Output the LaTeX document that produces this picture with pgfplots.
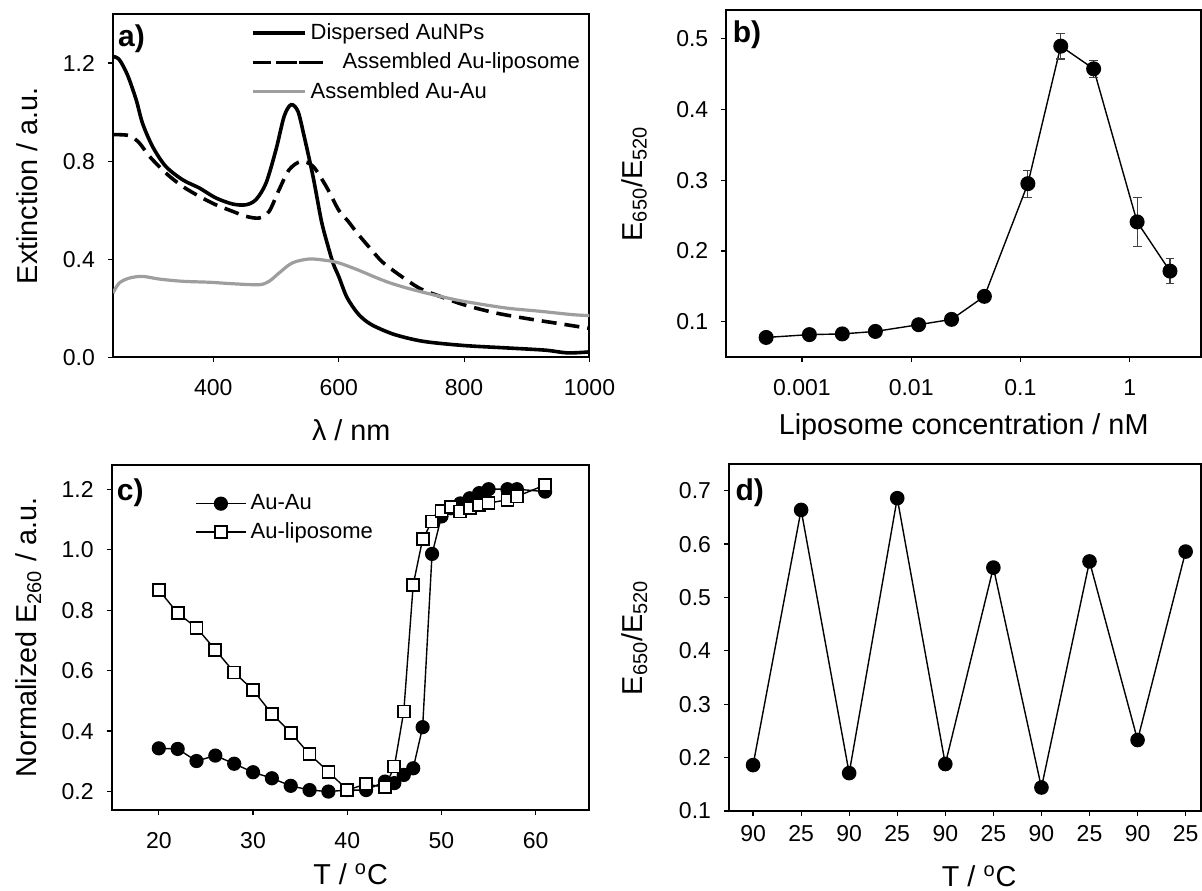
\documentclass[border=0pt]{standalone}
\usepackage{fontspec}
\setmainfont{Liberation Sans}
\usepackage{pgfplots}
\pgfplotsset{compat=1.18}
\pgfplotsset{
  panel/.style={
    scale only axis, anchor=south west,
    axis line style={line width=1pt},
    tick style={black, line width=0.6pt},
    tick align=outside, major tick length=2.5pt,
    xtick pos=lower, ytick pos=left,
    /pgf/number format/assume math mode=true,
    /pgf/number format/set thousands separator={},
    tick label style={font=\fontsize{11.5}{13}\selectfont},
    yticklabel style={xshift=-3pt},
    xticklabel style={yshift=-5pt},
    label style={font=\fontsize{14.4}{16}\selectfont},
  },
  longdash legend/.style={
    legend image code/.code={\path (0pt,0pt) -- (26pt,0pt);
      \draw[black, line width=1.8pt, overlay, dash pattern=on 9pt off 4pt] (0pt,0pt) -- (35pt,0pt);}},
}
\tikzset{letter/.style={anchor=north west, font=\bfseries\fontsize{15}{17}\selectfont, inner sep=0pt}}
\begin{document}
\begin{tikzpicture}
\path[use as bounding box] (0,0) rectangle (601pt,445pt);

% a) spectra
\begin{axis}[panel,
  at={(56.5pt,266.35pt)}, width=238.25pt, height=171.65pt,
  xmin=240, xmax=1000, ymin=0, ymax=1.40,
  xtick={400,600,800,1000}, ytick={0,0.4,0.8,1.2},
  yticklabel style={/pgf/number format/.cd, fixed, precision=1, zerofill},
  xlabel={λ / nm}, ylabel={Extinction / a.u.},
  xlabel style={at={(axis description cs:0.5,-0.212)}, anchor=center},
  ylabel style={at={(axis description cs:-0.18,0.5)}, anchor=center},
  legend style={draw=none, fill=none, at={(axis description cs:0.289,0.985)}, anchor=north west,
    font=\fontsize{11}{13}\selectfont, row sep=1.2pt, inner sep=0pt},
  legend cell align=left,
  legend image code/.code={\draw[#1] (0pt,0pt) -- (26pt,0pt);},
]
\addplot[black, line width=1.8pt, smooth] coordinates {
(240,1.227) (250,1.214) (263,1.152) (277,1.05) (287,0.955) (303,0.86) (324,0.779)
(351,0.724) (378,0.69) (404,0.65) (431,0.625) (452,0.622) (468,0.643) (484,0.71)
(500,0.847) (513,0.983) (524,1.03) (535,1.003) (545,0.90) (559,0.738) (572,0.561)
(580,0.48) (591,0.384) (600,0.33) (613,0.245) (630,0.18) (645,0.145) (660,0.123)
(690,0.092) (735,0.065) (800,0.048) (870,0.038) (930,0.029) (965,0.018) (1000,0.022)
};
\addlegendentry{Dispersed AuNPs}
\addplot[black, line width=1.8pt, dash pattern=on 7.5pt off 4pt, smooth, longdash legend] coordinates {
(240,0.908) (266,0.904) (282,0.874) (298,0.82) (324,0.752) (351,0.697) (378,0.656)
(404,0.622) (431,0.595) (452,0.575) (473,0.568) (489,0.595) (505,0.684) (521,0.765)
(540,0.799) (559,0.779) (580,0.697) (600,0.60) (615,0.555) (630,0.505) (650,0.445)
(670,0.388) (700,0.33) (730,0.28) (760,0.25) (800,0.214) (850,0.181) (900,0.158)
(950,0.138) (1000,0.118)
};
\addlegendentry{\hspace{16pt}Assembled Au-liposome}
\addplot[black!38, line width=1.6pt, smooth] coordinates {
(240,0.262) (250,0.303) (266,0.323) (287,0.33) (314,0.319) (351,0.31) (394,0.306)
(431,0.30) (473,0.296) (489,0.31) (505,0.344) (526,0.385) (553,0.401) (580,0.395)
(600,0.385) (630,0.357) (655,0.33) (680,0.305) (708,0.283) (735,0.265) (761,0.249)
(800,0.228) (867,0.201) (920,0.188) (973,0.174) (1000,0.17)
};
\addlegendentry{Assembled Au-Au}
\node[letter] at (axis description cs:0.01,0.97) {a)};
\end{axis}

% b) concentration
\pgfplotstableread{
x y e
0.00047 0.078 0
0.00117 0.082 0
0.00234 0.083 0
0.0047 0.0865 0
0.0117 0.096 0
0.0234 0.1035 0
0.0468 0.136 0
0.117 0.295 0.019
0.234 0.489 0.018
0.468 0.457 0.012
1.17 0.241 0.035
2.34 0.1716 0.018
}\conc
\begin{axis}[panel, xmode=log, xminorticks=false,
  at={(363.15pt,266.35pt)}, width=237.35pt, height=173.65pt,
  xmin=2.03e-4, xmax=4.5, ymin=0.05, ymax=0.54,
  xtick={0.001,0.01,0.1,1}, xticklabels={0.001,0.01,0.1,1},
  ytick={0.1,0.2,0.3,0.4,0.5},
  xlabel={Liposome concentration / nM}, ylabel={E\textsubscript{650}/E\textsubscript{520}},
  xlabel style={at={(axis description cs:0.5,-0.2)}, anchor=center},
  ylabel style={at={(axis description cs:-0.194,0.5)}, anchor=center},
]
\addplot[black, line width=0.7pt, mark=*, mark size=3.4pt,
  error bars/.cd, y dir=both, y explicit,
  error bar style={black!75, line width=0.6pt},
  error mark options={black!75, line width=0.6pt, mark size=2.2pt, rotate=90}]
  table[x=x, y=y, y error=e] {\conc};
\node[letter] at (axis description cs:0.013,0.97) {b)};
\end{axis}

% c) melting
\begin{axis}[panel,
  at={(55.85pt,40pt)}, width=238.85pt, height=172.5pt,
  xmin=15, xmax=65.7, ymin=0.139, ymax=1.28,
  xtick={20,30,40,50,60}, ytick={0.2,0.4,0.6,0.8,1.0,1.2},
  yticklabel style={/pgf/number format/.cd, fixed, precision=1, zerofill},
  xlabel={T / \textsuperscript{o}C}, ylabel={Normalized E\textsubscript{260} / a.u.},
  xlabel style={at={(axis description cs:0.5,-0.186)}, anchor=center, inner sep=0pt},
  ylabel style={at={(axis description cs:-0.174,0.5)}, anchor=center},
  legend style={draw=none, fill=none, at={(axis description cs:0.174,0.927)}, anchor=north west,
    font=\fontsize{11}{13}\selectfont, row sep=1pt, inner sep=0pt},
  legend cell align=left,
  legend image code/.code={\draw[mark repeat=2, mark phase=2, #1] plot coordinates {(0pt,0pt) (12.5pt,0pt) (25pt,0pt)};},
]
\addplot[black, line width=0.7pt, mark=*, mark size=3.2pt] coordinates {
(20,0.343) (22,0.341) (24,0.301) (26,0.319) (28,0.292) (30,0.264) (32,0.244)
(34,0.219) (36,0.205) (38,0.200) (40,0.205) (42,0.205) (44,0.233) (45,0.228)
(46,0.255) (47,0.277) (48,0.413) (49,0.986) (50,1.11) (51,1.137) (52,1.153)
(53,1.17) (54,1.187) (55,1.20) (57,1.20) (58,1.20) (61,1.192)
};
\addlegendentry{Au-Au}
\addplot[black, line width=0.7pt, mark=square*, mark size=3pt,
  mark options={fill=white, line width=0.9pt}] coordinates {
(20,0.867) (22,0.79) (24,0.742) (26,0.669) (28,0.594) (30,0.536) (32,0.457)
(34,0.395) (36,0.323) (38,0.266) (40,0.205) (42,0.225) (44,0.214) (45,0.283)
(46,0.465) (47,0.884) (48,1.035) (49,1.093) (50,1.128) (51,1.14) (52,1.126)
(53,1.137) (54,1.148) (55,1.154) (57,1.165) (58,1.176) (61,1.214)
};
\addlegendentry{Au-liposome}
\node[letter] at (axis description cs:0.01,0.96) {c)};
\end{axis}

% d) cycling
\begin{axis}[panel,
  at={(364.5pt,39.5pt)}, width=236pt, height=173.5pt,
  xmin=-0.5, xmax=9.32, ymin=0.1, ymax=0.75,
  xtick={0,...,9}, xticklabels={90,25,90,25,90,25,90,25,90,25},
  xticklabel style={yshift=4pt},
  ytick={0.1,0.2,0.3,0.4,0.5,0.6,0.7},
  xlabel={T / \textsuperscript{o}C}, ylabel={E\textsubscript{650}/E\textsubscript{520}},
  xlabel style={at={(axis description cs:0.53,-0.188)}, anchor=center, inner sep=0pt},
  ylabel style={at={(axis description cs:-0.20,0.5)}, anchor=center},
]
\addplot[black, line width=0.7pt, mark=*, mark size=3.3pt] coordinates {
(0,0.186) (1,0.664) (2,0.171) (3,0.686) (4,0.188) (5,0.556) (6,0.144) (7,0.5675) (8,0.233) (9,0.586)
};
\node[letter] at (axis description cs:0.013,0.96) {d)};
\end{axis}
\end{tikzpicture}
\end{document}
